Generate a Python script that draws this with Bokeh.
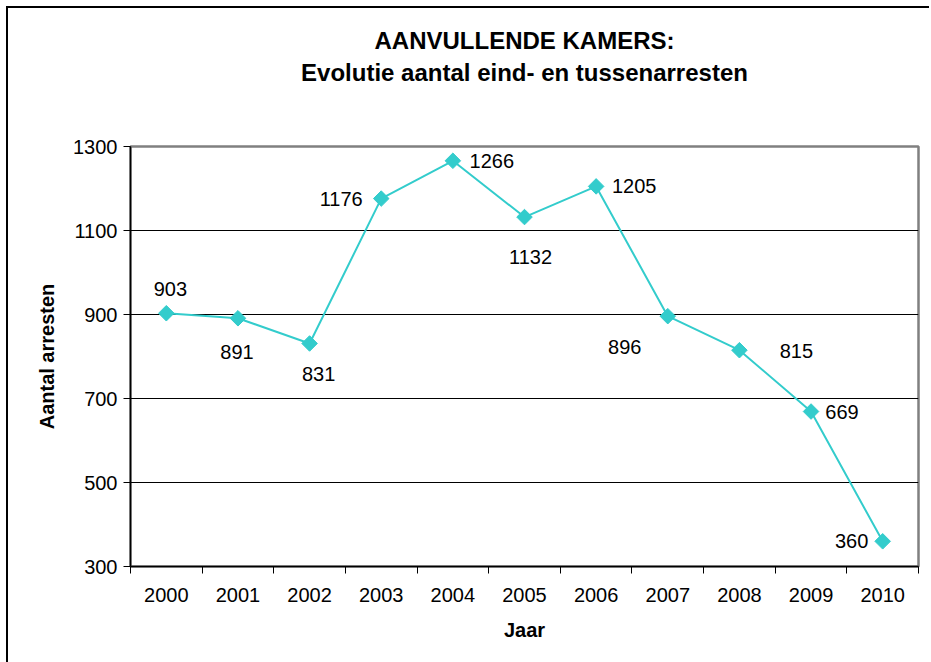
import math
from bokeh.plotting import figure
from bokeh.models import FixedTicker, Title, ColumnDataSource, Range1d
from bokeh.core.properties import value
from bokeh.embed import file_html
from bokeh.resources import INLINE

# ---- data ----
years = [2000, 2001, 2002, 2003, 2004, 2005, 2006, 2007, 2008, 2009, 2010]
arresten = [903, 891, 831, 1176, 1266, 1132, 1205, 896, 815, 669, 360]
y_ticks = [300, 500, 700, 900, 1100, 1300]
title_lines = ["AANVULLENDE KAMERS:", "Evolutie aantal eind- en tussenarresten"]

# ---- label placement (style, pixels) ----
lab_dx = [4, -1, 9, -40, 39, 6, 38, -43, 57, 31, -31]
lab_dy = [-24, 34, 31, 0, 0, 40, 0, 31, 1, 0, 0]

FONT = "Liberation Sans"
TEAL = "#33CCCC"

p = figure(width=929, height=662, output_backend="svg", toolbar_location=None,
           x_range=Range1d(years[0] - 0.5, years[-1] + 0.5),
           y_range=Range1d(y_ticks[0], y_ticks[-1]),
           min_border_left=130, min_border_right=11, min_border_top=146,
           min_border_bottom=96)
p.border_fill_color = None
p.styles = {
    "background-color": "#ffffff",
    "background-image": (
        "linear-gradient(to right, transparent 6px, #000000 6px, #000000 8px, transparent 8px),"
        "linear-gradient(to bottom, transparent 6px, #000000 6px, #000000 8px, transparent 8px)"
    ),
    "background-repeat": "no-repeat",
    "background-position": "0 6px, 6px 0",
}

# spacer between the plot frame and the title block
p.add_layout(Title(text=" ", text_font=FONT, text_font_size="10px", standoff=48), "above")
p.add_layout(Title(text=title_lines[1], align="center", text_font=FONT,
                   text_font_size="24px", text_font_style="bold",
                   text_color="black", standoff=0), "above")
p.add_layout(Title(text=title_lines[0], align="center", text_font=FONT,
                   text_font_size="24px", text_font_style="bold",
                   text_color="black", standoff=6), "above")

src = ColumnDataSource(dict(x=years, y=arresten, lab=[str(v) for v in arresten],
                            dx=lab_dx, dy=lab_dy))

p.line("x", "y", source=src, line_color=TEAL, line_width=2)
p.scatter("x", "y", source=src, marker="square", size=11, angle=math.pi / 4,
          fill_color=TEAL, line_color=TEAL)
p.text("x", "y", text="lab", source=src, x_offset="dx", y_offset="dy",
       text_align="center", text_baseline="middle", text_font=value(FONT),
       text_font_size="20px", text_color="black")

# x axis: labels at centres, ticks at boundaries
p.xaxis.ticker = FixedTicker(ticks=years,
                             minor_ticks=[y - 0.5 for y in years] + [years[-1] + 0.5])
p.xaxis.major_label_overrides = {y: str(y) for y in years}
p.xaxis.minor_tick_in = 0
p.xaxis.minor_tick_out = 7
p.xaxis.minor_tick_line_color = "black"
p.xaxis.axis_label = "Jaar"
p.xaxis.major_label_standoff = 14

p.yaxis.ticker = FixedTicker(ticks=y_ticks)
p.yaxis.minor_tick_line_color = None
p.yaxis.major_tick_in = 0
p.yaxis.major_tick_out = 7
p.yaxis.axis_label = "Aantal arresten"
p.yaxis.major_label_standoff = 6

for ax in (p.xaxis[0], p.yaxis[0]):
    ax.axis_line_color = "black"
    ax.axis_line_width = 1.5
    ax.major_label_text_font = FONT
    ax.major_label_text_font_size = "20px"
    ax.major_label_text_color = "black"
    ax.axis_label_text_font = FONT
    ax.axis_label_text_font_size = "20px"
    ax.axis_label_text_font_style = "bold"
    ax.axis_label_text_color = "black"
p.xaxis.major_tick_line_color = None
p.yaxis.major_tick_line_color = "black"
p.xaxis.axis_label_standoff = 14
p.yaxis.axis_label_standoff = 12

p.xgrid.grid_line_color = None
p.ygrid.ticker = FixedTicker(ticks=y_ticks[1:-1])
p.ygrid.grid_line_color = "black"
p.ygrid.grid_line_width = 1

p.outline_line_color = "#808080"
p.outline_line_width = 2.5
p.background_fill_color = "white"

open("out.html", "w").write(file_html(p, INLINE))
